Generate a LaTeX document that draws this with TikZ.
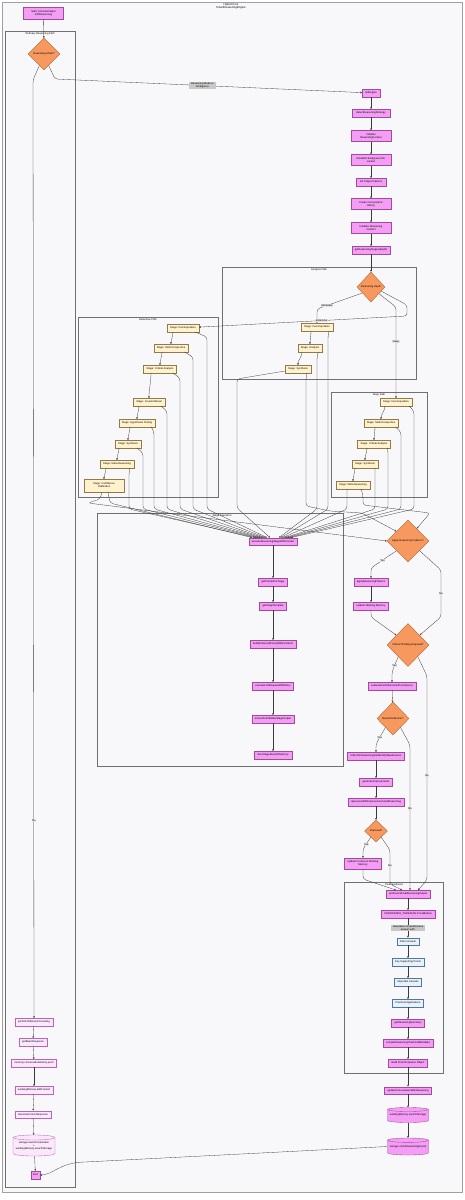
\documentclass[tikz,border=0pt]{standalone}
\usepackage{fontspec}
\setmainfont{Liberation Sans}
\usetikzlibrary{shapes.geometric,arrows.meta}
\definecolor{bgc}{HTML}{F8F8FA}
\definecolor{framec}{HTML}{A0A0A0}
\definecolor{subc}{HTML}{707070}
\definecolor{pinkf}{HTML}{F59DF5}
\definecolor{pinkd}{HTML}{A04AA0}
\definecolor{lpinkf}{HTML}{FCE8FC}
\definecolor{lpinkd}{HTML}{C060C0}
\definecolor{stagef}{HTML}{FFF2CC}
\definecolor{staged}{HTML}{8F7A4A}
\definecolor{diaf}{HTML}{F7985F}
\definecolor{diad}{HTML}{B0602C}
\definecolor{bluef}{HTML}{EAF1FA}
\definecolor{blued}{HTML}{4A78A8}
\definecolor{edgec}{HTML}{3A3A3A}
\definecolor{labf}{HTML}{E4E4E4}
\definecolor{glabf}{HTML}{C8C8C8}
\newcommand{\myfs}{\fontsize{2.6pt}{3.1pt}\selectfont}
\newcommand{\mycyl}[8]{%
  \path[#7] (#2-#4,#3-#5+#6) -- (#2-#4,#3+#5-#6)
    arc[start angle=180,end angle=360,x radius=#4pt,y radius=#6pt]
    -- (#2+#4,#3-#5+#6)
    arc[start angle=0,end angle=180,x radius=#4pt,y radius=#6pt] -- cycle;
  \path[#7, fill=none] (#2-#4,#3-#5+#6) arc[start angle=180,end angle=360,x radius=#4pt,y radius=#6pt];
  \node[cyltext, minimum width=2*#4, minimum height=2*#5] (#1) at (#2,#3) {#8};}
\begin{document}
\begin{tikzpicture}[x=1pt,y=-1pt,
  base/.style={font=\myfs, align=center, inner xsep=3pt, inner ysep=0.8pt, minimum height=7.5pt, line width=0.35pt},
  pinkbox/.style={base, draw=pinkd, fill=pinkf},
  lpinkbox/.style={base, draw=lpinkd, fill=lpinkf},
  stagebox/.style={base, draw=staged, fill=stagef},
  bluebox/.style={base, draw=blued, fill=bluef},
  dia/.style={diamond, draw=diad, fill=diaf, inner sep=0pt, line width=0.35pt},
  dlab/.style={font=\myfs, align=center},
  edge/.style={draw=edgec, line width=0.3pt, -{Stealth[length=1.9pt,width=1.8pt]}, rounded corners=3pt},
  elab/.style={font=\myfs, fill=labf, inner sep=0.5pt, sharp corners},
  glab/.style={font=\myfs, fill=glabf, inner xsep=2pt, inner ysep=0.6pt, align=center, sharp corners},
  subg/.style={draw=subc, line width=0.45pt},
  subt/.style={font=\myfs},
  cylpink/.style={draw=pinkd, fill=pinkf, line width=0.35pt},
  cyllpink/.style={draw=lpinkd, fill=lpinkf, line width=0.35pt},
  cyltext/.style={font=\myfs, align=center, inner sep=0pt}]
\useasboundingbox (0,0) rectangle (465,1200);
\fill[white] (0,0) rectangle (465,1200);
\draw[fill=bgc, draw=framec, line width=0.8pt] (2,2) rectangle (462,1192);
\node[font=\fontsize{2.8pt}{3.4pt}\selectfont, align=center] (title) at (231,6.5) {Hybrid Core\\SmartReasoningEngine};

% subgraphs
\draw[subg] (5,31) rectangle (75,1187);
\node[subt] (tleft) at (40,33.5) {Ordinary Reasoning Path};
\draw[subg] (222,267) rectangle (416,379);
\node[subt] (tana) at (319,269.5) {Analysis Path};
\draw[subg] (78,317) rectangle (218,497);
\node[subt] (text) at (148,319.5) {Extensive Path};
\draw[subg] (331,392) rectangle (427,497);
\node[subt] (tdeep) at (379,394.5) {Deep Path};
\draw[subg] (97,513) rectangle (343,766);
\node[subt] (tmid) at (222,515.5) {Stage Execution};
\draw[subg] (344,882) rectangle (443,1073);
\node[subt] (tfin) at (394,884.5) {Final Synthesis};

% start / decision
\node[pinkbox, minimum width=40pt, minimum height=12pt] (start) at (43.5,13) {Start: processOutput\\withReasoning};
\node[dia, minimum width=32pt, minimum height=32pt, label={[dlab]center:Reasoning Mode?}] (d1) at (44,54) {};

% right chain
\node[pinkbox, minimum width=16pt] (init) at (371,93) {initEngine};
\node[pinkbox, minimum width=38pt] (n2) at (371,113) {detectReasoningStrategy};
\node[pinkbox, minimum width=40pt, minimum height=11pt] (n3) at (371,136) {Initialize\\ReasoningContext};
\node[pinkbox, minimum width=40pt, minimum height=11pt] (n4) at (371,160) {Establish background for\\context};
\node[pinkbox, minimum width=30pt] (n5) at (371,182) {Init Output Patterns};
\node[pinkbox, minimum width=40pt, minimum height=11pt] (n6) at (371,204) {Create Conversation\\History};
\node[pinkbox, minimum width=40pt, minimum height=11pt] (n7) at (371,228) {Initialize Reasoning\\Context};
\node[pinkbox, minimum width=38pt] (n8) at (371,250) {getReasoningStages(depth)};
\node[dia, minimum width=28pt, minimum height=30pt, label={[dlab]center:Reasoning Depth}] (rd) at (371,287) {};

% analysis stages
\node[stagebox] (aDec) at (317,327) {Stage: Decomposition};
\node[stagebox] (aAna) at (310,348) {Stage: Analysis};
\node[stagebox] (aSyn) at (298,369) {Stage: Synthesis};

% extensive stages
\node[stagebox] (eDec) at (183,328) {Stage: Decomposition};
\node[stagebox] (eMul) at (171,348) {Stage: Multi-Perspective};
\node[stagebox] (eCri) at (160,369) {Stage: Critical Analysis};
\node[stagebox] (eCou) at (149,402) {Stage: Counterfactual};
\node[stagebox] (eHyp) at (137,423) {Stage: Hypothesis Testing};
\node[stagebox] (eSyn) at (128,444) {Stage: Synthesis};
\node[stagebox] (eMet) at (117,464) {Stage: Meta-Reasoning};
\node[stagebox, minimum height=12.5pt, minimum width=40pt] (eConf) at (104,485.5) {Stage: Confidence\\Calibration};

% deep stages
\node[stagebox] (dDec) at (396,402) {Stage: Decomposition};
\node[stagebox] (dMul) at (381,423) {Stage: Multi-Perspective};
\node[stagebox] (dCri) at (374,444) {Stage: Critical Analysis};
\node[stagebox] (dSyn) at (365,464) {Stage: Synthesis};
\node[stagebox] (dMet) at (353,485) {Stage: Meta-Reasoning};

% middle chain
\node[pinkbox] (exec) at (273,541.5) {executeReasoningStageWithContext};
\node[pinkbox] (prompt) at (273,582) {getPromptForStage};
\node[pinkbox] (tmpl) at (273,606) {getStageTemplate};
\node[pinkbox] (build) at (273,644) {buildEnhancedPromptWithContext};
\node[pinkbox] (req) at (273,686) {executeLLMRequestWithRetry};
\node[pinkbox] (extract) at (273,719) {extractAndValidateStageOutput};
\node[pinkbox] (parse) at (273,755) {storeStageResultInMemory};

% right decisions
\node[dia, minimum width=42pt, minimum height=42pt, label={[dlab]center:Apply Reasoning Patterns?}] (apply) at (408,541) {};
\node[pinkbox] (ap1) at (371,582) {applyReasoningPatterns};
\node[pinkbox] (ap2) at (371,606) {Update Working Memory};
\node[dia, minimum width=42pt, minimum height=43pt, label={[dlab]center:Critical Thinking Required?}] (crit) at (408,645) {};
\node[pinkbox] (ev) at (392,686) {evaluateConfidenceAndConsistency};
\node[dia, minimum width=32pt, minimum height=33pt, label={[dlab]center:Needs Reflection?}] (trig) at (393,718.5) {};
\node[pinkbox] (r1) at (376,756) {reflectOnReasoningAndIdentifyWeaknesses};
\node[pinkbox] (r2) at (376,782) {generateImprovements};
\node[pinkbox] (r3) at (376,802) {reprocessWithImprovementsAndReasoning};
\node[dia, minimum width=23pt, minimum height=22pt, label={[dlab]center:Improved?}] (imp) at (376,831) {};
\node[pinkbox, minimum height=11pt] (upd) at (363,863.5) {Update Context \& Working\\Memory};

% final synthesis
\node[pinkbox] (fs) at (408,894) {synthesizeFinalReasoningOutput};
\node[pinkbox] (fc) at (408,914) {CONFIDENCE\_THRESHOLD Calibration};
\node[bluebox] (fa) at (408,941.5) {Direct Answer};
\node[bluebox] (fb) at (408,962) {Key Supporting Points};
\node[bluebox] (fcv) at (408,982) {Important Caveats};
\node[bluebox] (fd) at (408,1003) {Practical Applications};
\node[pinkbox] (fg) at (408,1023) {getReasoningSummary};
\node[pinkbox] (fh) at (408,1043) {compileReasoningChainAndMetadata};
\node[pinkbox] (fi) at (408,1063) {Build Final Response Object};
\node[pinkbox] (sv) at (408,1090.5) {updateConversationWithReasoning};
\mycyl{cy1}{408}{1115}{20.5}{7.5}{2}{cylpink}{workingMemory.saveToStorage}
\mycyl{cy2}{408}{1146.5}{20.5}{8.5}{2.2}{cylpink}{storage.cacheReasoningResult}

% left chain
\node[lpinkbox] (o1) at (34,1022) {performOrdinaryProcessing};
\node[lpinkbox] (o2) at (33,1042) {getBasicResponse};
\node[lpinkbox] (o3) at (34,1063) {memory.conversationHistory.push};
\node[lpinkbox] (o4) at (34,1090) {workingMemory.addContext};
\node[lpinkbox] (o5) at (33,1114.5) {Generate Final Response};
\mycyl{ocy}{34}{1145.5}{21}{10.5}{2.5}{cyllpink}{storage.saveConversation\\+\\workingMemory.saveToStorage}
\node[pinkbox, minimum width=9pt, minimum height=8pt, inner xsep=1pt] (End) at (35.5,1175) {End};

% ---- edges ----
\draw[edge] (start) -- (d1);
\draw[edge] (d1.-112) -- (33,80) -- node[elab, pos=0.79]{No} (o1);
\draw[edge] (d1.-68) -- (55,79) -- node[glab, pos=0.48]{Reasoning Mode or\\Ambiguous} (init);
\draw[edge] (init) -- (n2);
\draw[edge] (n2) -- (n3);
\draw[edge] (n3) -- (n4);
\draw[edge] (n4) -- (n5);
\draw[edge] (n5) -- (n6);
\draw[edge] (n6) -- (n7);
\draw[edge] (n7) -- (n8);
\draw[edge] (n8) -- (rd);
\draw[edge] (rd.-145) -- node[elab,pos=0.78]{Moderate} (317,309) -- (aDec);
\draw[edge] (rd.-40) -- (396,307) -- node[elab,pos=0.38]{Deep} (dDec);
\draw[edge] (rd.-22) -- (407,305) -- (407,316) -- node[elab,pos=0.41]{Extensive} (eDec);

% stage chains
\draw[edge] ([xshift=-6pt]aDec.south) to[out=-90,in=90] (aAna.north);
\draw[edge] ([xshift=-8pt]aAna.south) to[out=-90,in=90] (aSyn.north);
\draw[edge] ([xshift=-10pt]eDec.south) to[out=-90,in=90] (eMul.north);
\draw[edge] ([xshift=-9pt]eMul.south) to[out=-90,in=90] (eCri.north);
\draw[edge] ([xshift=-9pt]eCri.south) to[out=-90,in=90] (eCou.north);
\draw[edge] ([xshift=-10pt]eCou.south) to[out=-90,in=90] (eHyp.north);
\draw[edge] ([xshift=-7pt]eHyp.south) to[out=-90,in=90] (eSyn.north);
\draw[edge] ([xshift=-9pt]eSyn.south) to[out=-90,in=90] (eMet.north);
\draw[edge] ([xshift=-11pt]eMet.south) to[out=-90,in=90] (eConf.north);
\draw[edge] ([xshift=-11pt]dDec.south) to[out=-90,in=90] (dMul.north);
\draw[edge] ([xshift=-6pt]dMul.south) to[out=-90,in=90] (dCri.north);
\draw[edge] ([xshift=-7pt]dCri.south) to[out=-90,in=90] (dSyn.north);
\draw[edge] ([xshift=-10pt]dSyn.south) to[out=-90,in=90] (dMet.north);

% stages to execution
\draw[edge] ([xshift=-4pt]eDec.south east) -- (207,337) -- (207,509) -- ([xshift=-6pt]exec.north);
\draw[edge] ([xshift=-4pt]eMul.south east) -- (193,357) -- (193,509) -- ([xshift=-8pt]exec.north);
\draw[edge] ([xshift=-4pt]eCri.south east) -- (180,378) -- (180,509) -- ([xshift=-10pt]exec.north);
\draw[edge] ([xshift=-4pt]eCou.south east) -- (167,411) -- (167,509) -- ([xshift=-12pt]exec.north);
\draw[edge] ([xshift=-4pt]eHyp.south east) -- (154,432) -- (154,509) -- ([xshift=-14pt]exec.north);
\draw[edge] ([xshift=-4pt]eSyn.south east) -- (143,453) -- (143,509) -- ([xshift=-16pt]exec.north);
\draw[edge] ([xshift=-4pt]eMet.south east) -- (129,473) -- (129,509) -- ([xshift=-18pt]exec.north);
\draw[edge] ([xshift=4pt]eConf.south) -- (110,503) -- ([xshift=-21pt]exec.north);
\draw[edge] ([xshift=-2pt]eConf.south) -- (100,499) -- (88,503) -- (apply.west);
\draw[edge] ([xshift=-4pt]aDec.south east) -- (328,336) -- (328,509) -- ([xshift=8pt]exec.north);
\draw[edge] ([xshift=-4pt]aAna.south east) -- (317,357) -- (317,509) -- ([xshift=6pt]exec.north);
\draw[edge] ([yshift=-2pt]aSyn.west) -- (237,379) -- (237,508) -- ([xshift=-3pt]exec.north);
\draw[edge] ([xshift=-4pt]aSyn.south east) -- (306,378) -- (306,506) -- (330,511) -- (362,513) -- (apply.140);
\draw[edge] ([xshift=-3pt]dDec.south east) -- (414,411) -- (414,509) -- ([xshift=18pt]exec.north);
\draw[edge] ([xshift=-3pt]dMul.south east) -- (401,432) -- (401,509) -- ([xshift=16pt]exec.north);
\draw[edge] ([xshift=-3pt]dCri.south east) -- (388,453) -- (388,509) -- ([xshift=14pt]exec.north);
\draw[edge] ([xshift=-3pt]dSyn.south east) -- (375,473) -- (375,509) -- ([xshift=12pt]exec.north);
\draw[edge] ([xshift=-6pt]dMet.south) -- (347,495) -- (347,509) -- ([xshift=10pt]exec.north);
\draw[edge] ([xshift=8pt]dMet.south) -- (363,495) -- (363,505) -- (430,513) -- (apply.55);

% middle chain
\draw[edge] (exec) -- (prompt);
\draw[edge] (prompt) -- (tmpl);
\draw[edge] (tmpl) -- (build);
\draw[edge] (build) -- (req);
\draw[edge] (req) -- (extract);
\draw[edge] (extract) -- (parse);

% decisions
\draw[edge] (apply.-140) -- node[elab, pos=0.55]{Yes} (371,568) -- (ap1);
\draw[edge] (ap1) -- (ap2);
\draw[edge] (ap2) -- (371,617) -- (crit.140);
\draw[edge] (apply.-40) -- (441,570) -- node[elab]{No} (441,617) -- (crit.40);
\draw[edge] (crit.-130) -- node[elab,pos=0.6]{Yes} (392,672) -- (ev);
\draw[edge] (crit.-50) -- (427,676) -- node[elab, pos=0.49]{No} (427,880) -- ([xshift=10pt]fs.north);
\draw[edge] (ev) -- (trig);
\draw[edge] (trig.-130) -- node[elab,pos=0.6]{Yes} (376,744) -- (r1);
\draw[edge] (trig.-50) -- (410,745) -- node[elab,pos=0.44]{No} ([xshift=2pt]fs.north);
\draw[edge] (r1) -- (r2);
\draw[edge] (r2) -- (r3);
\draw[edge] (r3) -- (imp);
\draw[edge] (imp.-130) -- node[elab,pos=0.6]{Yes} (363,849) -- (upd);
\draw[edge] (imp.-50) -- (390,850) -- node[elab,pos=0.45]{No} (390,884) -- ([xshift=-6pt]fs.north);
\draw[edge] (upd) -- (363,879) -- ([xshift=-12pt]fs.north);

% final chain
\draw[edge] (fs) -- (fc);
\draw[edge] (fc) -- node[glab]{Generates comprehensive\\answer with:} (fa);
\draw[edge] (fa) -- (fb);
\draw[edge] (fb) -- (fcv);
\draw[edge] (fcv) -- (fd);
\draw[edge] (fd) -- (fg);
\draw[edge] (fg) -- (fh);
\draw[edge] (fh) -- (fi);
\draw[edge] (fi) -- (sv);
\draw[edge] (sv) -- (cy1);
\draw[edge] (cy1) -- (cy2);
\draw[edge] (cy2.west) -- (85,1162) .. controls (60,1163) and (52,1175) .. (End.east);

% left chain
\draw[edge] (o1) -- (o2);
\draw[edge] (o2) -- (o3);
\draw[edge] (o3) -- (o4);
\draw[edge] (o4) -- (o5);
\draw[edge] (o5) -- (ocy);
\draw[edge] (ocy) -- (End);
\end{tikzpicture}
\end{document}
